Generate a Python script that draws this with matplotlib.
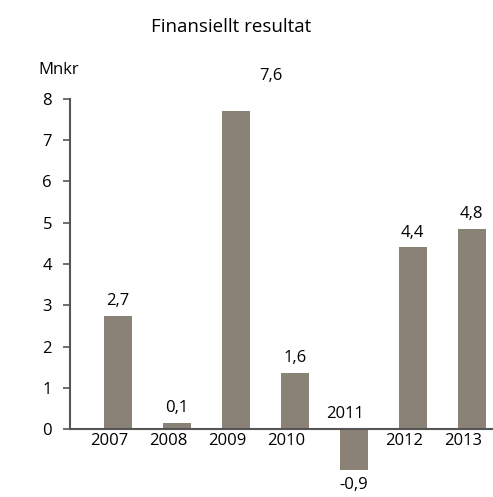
import numpy as np
import matplotlib.pyplot as plt

years = ['2007', '2008', '2009', '2010', '2011', '2012', '2013']
values = [2.75, 0.15, 7.7, 1.35, -1.0, 4.4, 4.85]
value_labels = ['2,7', '0,1', '7,6', '1,6', '-0,9', '4,4', '4,8']
yticks = [0, 1, 2, 3, 4, 5, 6, 7, 8]


def run_main():
    plt.rcParams['font.family'] = ['Open Sans', 'DejaVu Sans']
    fs = 12
    fig = plt.figure(figsize=(4.93, 4.97), dpi=100)
    ax = fig.add_axes([0.142, 0.0495, 0.858, 0.7515])

    bar_col = '#8a8276'
    axis_col = '#555555'
    x = np.arange(len(years))
    ax.bar(x, values, width=0.47, color=bar_col)

    ax.set_xlim(-0.81, 6.36)
    ax.set_ylim(-1.05, 8.0)

    for s in ['top', 'right', 'bottom']:
        ax.spines[s].set_visible(False)
    ax.spines['left'].set_bounds(0, 8)
    ax.spines['left'].set_color(axis_col)
    ax.spines['left'].set_linewidth(1.5)
    ax.axhline(0, color=axis_col, lw=1.5)

    ax.set_yticks(yticks)
    ax.set_yticklabels([str(t) for t in yticks], fontsize=fs)
    ax.tick_params(axis='y', length=5, width=1.2, color=axis_col, pad=8)
    ax.set_xticks([])

    # year labels, 2011 sits above the axis because its bar is negative
    for i, yr in enumerate(years):
        if values[i] < 0:
            ax.annotate(yr, (x[i] - 0.15, 0), xytext=(0, 5), textcoords='offset points',
                        ha='center', va='bottom', fontsize=fs)
        else:
            ax.annotate(yr, (x[i] - 0.15, 0), xytext=(0, -3), textcoords='offset points',
                        ha='center', va='top', fontsize=fs)

    # value labels
    for i, lab in enumerate(value_labels):
        if values[i] < 0:
            ax.annotate(lab, (x[i], values[i]), xytext=(0, -5), textcoords='offset points',
                        ha='center', va='top', fontsize=fs)
        elif i == 2:
            ax.annotate(lab, (x[i] + 0.6, 8.35), ha='center', va='bottom',
                        fontsize=fs, annotation_clip=False)
        else:
            ax.annotate(lab, (x[i], values[i]), xytext=(0, 5), textcoords='offset points',
                        ha='center', va='bottom', fontsize=fs)

    fig.text(0.468, 0.945, 'Finansiellt resultat', ha='center', va='center', fontsize=13.5)
    fig.text(0.077, 0.86, 'Mnkr', ha='left', va='center', fontsize=12)

    fig.savefig('out.png', dpi=100)


if __name__ == "__main__":
    run_main()
